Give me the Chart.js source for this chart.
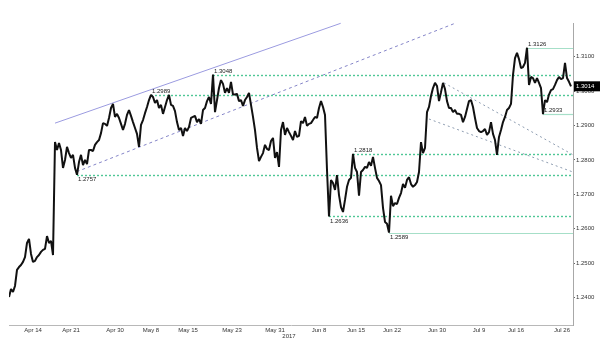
<!DOCTYPE html>
<html>
<head>
<meta charset="utf-8">
<script src="https://cdn.jsdelivr.net/npm/chart.js@4.4.1/dist/chart.umd.min.js"></script>
<style>
  html, body { margin: 0; padding: 0; background: #fff; }
  #wrap { width: 600px; height: 349px; position: relative; }
</style>
</head>
<body>
<div id="wrap"><canvas id="c" width="600" height="349"></canvas></div>
<script>
// GBP/USD closes, April to late July 2017 (one sample per step on the x axis)
const closes = [
  1.2402,1.2425,1.2417,1.2434,1.2481,1.2489,1.2495,1.2504,1.2518,1.2559,
  1.2571,1.2527,1.2504,1.2507,1.2518,1.2524,1.2533,1.2539,1.2542,1.2579,
  1.2559,1.2565,1.2524,1.2852,1.2829,1.2849,1.2829,1.2777,1.2800,1.2838,
  1.2820,1.2806,1.2815,1.2777,1.2757,1.2794,1.2815,1.2785,1.2800,1.2788,
  1.2829,1.2829,1.2826,1.2844,1.2852,1.2858,1.2878,1.2907,1.2905,1.2899,
  1.2922,1.2951,1.2963,1.2925,1.2934,1.2922,1.2905,1.2887,1.2905,1.2931,
  1.2945,1.2928,1.2910,1.2893,1.2876,1.2838,1.2902,1.2916,1.2936,1.2954,
  1.2974,1.2989,1.2983,1.2966,1.2974,1.2951,1.2960,1.2934,1.2954,1.2974,
  1.2989,1.2960,1.2957,1.2942,1.2910,1.2887,1.2893,1.2870,1.2893,1.2884,
  1.2896,1.2922,1.2925,1.2928,1.2910,1.2919,1.2905,1.2945,1.2951,1.2971,
  1.2983,1.2963,1.3048,1.2939,1.2974,1.3009,1.3032,1.3021,1.2995,1.3009,
  1.2995,1.3027,1.2990,1.2990,1.2992,1.2971,1.2974,1.2957,1.2974,1.2983,
  1.2995,1.2960,1.2925,1.2887,1.2835,1.2797,1.2809,1.2820,1.2844,1.2832,
  1.2829,1.2855,1.2864,1.2806,1.2823,1.2780,1.2887,1.2910,1.2873,1.2893,
  1.2881,1.2870,1.2858,1.2884,1.2867,1.2870,1.2913,1.2907,1.2925,1.2899,
  1.2905,1.2907,1.2916,1.2925,1.2922,1.2951,1.2971,1.2954,1.2931,1.2771,
  1.2636,1.2742,1.2733,1.2713,1.2756,1.2698,1.2663,1.2649,1.2684,1.2722,
  1.2742,1.2748,1.2818,1.2777,1.2765,1.2696,1.2765,1.2771,1.2780,1.2777,
  1.2794,1.2783,1.2809,1.2777,1.2748,1.2739,1.2727,1.2661,1.2620,1.2615,
  1.2589,1.2696,1.2666,1.2675,1.2672,1.2690,1.2704,1.2730,1.2719,1.2742,
  1.2750,1.2730,1.2722,1.2727,1.2736,1.2765,1.2852,1.2820,1.2835,1.2939,
  1.2954,1.2986,1.3009,1.3024,1.3015,1.2971,1.2997,1.3024,1.3006,1.2971,
  1.2951,1.2951,1.2939,1.2945,1.2934,1.2934,1.2931,1.2910,1.2925,1.2948,
  1.2971,1.2974,1.2954,1.2922,1.2893,1.2884,1.2881,1.2884,1.2890,1.2873,
  1.2881,1.2910,1.2876,1.2858,1.2815,1.2867,1.2887,1.2910,1.2925,1.2945,
  1.2951,1.2963,1.3047,1.3096,1.3111,1.3093,1.3067,1.3070,1.3082,1.3126,
  1.3018,1.3041,1.3038,1.3024,1.3038,1.3024,1.3009,1.2933,1.2974,1.2968,
  1.2990,1.3003,1.3006,1.3018,1.3032,1.3041,1.3035,1.3038,1.3082,1.3038,
  1.3027,1.3014
];

// date labels and the sample they fall on
const dateTicks  = ['Apr 14','Apr 21','Apr 30','May 8','May 15','May 23','May 31',
                    'Jun 8','Jun 15','Jun 22','Jun 30','Jul 9','Jul 16','Jul 26'];
const dateTickAt = [12, 31, 53, 71, 89.5, 111.5, 133, 155, 173.5, 191.5, 214, 235, 253.5, 276.5];
const yearLabel = '2017';

// price axis ticks
const priceTicks = [1.24, 1.25, 1.26, 1.27, 1.28, 1.29, 1.30, 1.31];

// support / resistance levels (extend right from the bar where they were set)
const dottedLevels = [1.3048, 1.2989, 1.2818, 1.2757, 1.2636];
const solidLevels  = [1.3126, 1.2933, 1.2589];
const levelsBelowText = [1.2757, 1.2636, 1.2589];

// trend lines as [sample, price] anchor pairs
const channelTop    = [[23, 1.2907], [165.85, 1.3197]];
const channelBase   = [[33.85, 1.2766], [223, 1.3197]];
const wedgeTop      = [[217.5, 1.3024], [282, 1.2815]];
const wedgeBase     = [[210, 1.2919], [282, 1.2765]];

const lastPrice = closes[closes.length - 1];

const FONT = '"Liberation Sans", Arial, sans-serif';

const overlay = {
  id: 'overlay',
  beforeDatasetsDraw(chart) {
    const { ctx, scales: { x, y }, chartArea } = chart;
    const seg = (pts, color, dash, w) => {
      ctx.beginPath();
      ctx.setLineDash(dash);
      ctx.strokeStyle = color;
      ctx.lineWidth = w;
      ctx.moveTo(x.getPixelForValue(pts[0][0]), y.getPixelForValue(pts[0][1]));
      ctx.lineTo(x.getPixelForValue(pts[1][0]), y.getPixelForValue(pts[1][1]));
      ctx.stroke();
    };
    ctx.save();
    seg(channelTop, '#9b9be0', [], 1);
    seg(channelBase, '#8585c8', [3, 3], 1);
    seg(wedgeTop, '#8d9cb0', [2, 3], 1);
    seg(wedgeBase, '#8d9cb0', [2, 3], 1);

    const level = (v, color, dash, w) => {
      const i0 = closes.indexOf(v);
      const py = Math.round(y.getPixelForValue(v)) + 0.5;
      ctx.beginPath();
      ctx.setLineDash(dash);
      ctx.strokeStyle = color;
      ctx.lineWidth = w;
      ctx.moveTo(x.getPixelForValue(i0), py);
      ctx.lineTo(chartArea.right, py);
      ctx.stroke();
    };
    dottedLevels.forEach(v => level(v, '#4fc796', [2, 2], 1.4));
    solidLevels.forEach(v => level(v, '#a6dfc8', [], 1.2));
    ctx.restore();
  },
  afterDraw(chart) {
    const { ctx, scales: { x, y }, chartArea } = chart;
    ctx.save();
    ctx.font = '6px ' + FONT;
    ctx.fillStyle = '#222';
    ctx.textAlign = 'left';
    [...dottedLevels, ...solidLevels].forEach(v => {
      const i0 = closes.indexOf(v);
      const px = x.getPixelForValue(i0) + 1;
      const py = y.getPixelForValue(v);
      if (levelsBelowText.includes(v)) {
        ctx.textBaseline = 'top';
        ctx.fillText(v.toFixed(4), px, py + 2);
      } else {
        ctx.textBaseline = 'alphabetic';
        ctx.fillText(v.toFixed(4), px, py - 2);
      }
    });

    // year under the date axis
    ctx.textAlign = 'center';
    ctx.textBaseline = 'middle';
    ctx.fillStyle = '#333';
    ctx.fillText(yearLabel, 289, 336);

    // last price tag on the price axis
    const ly = y.getPixelForValue(lastPrice);
    ctx.fillStyle = '#000';
    ctx.fillRect(chartArea.right + 1, ly - 5, 26, 10);
    ctx.fillStyle = '#fff';
    ctx.textAlign = 'left';
    ctx.fillText(lastPrice.toFixed(4), chartArea.right + 3, ly + 0.5);
    ctx.restore();
  }
};

Chart.defaults.font.family = FONT;

new Chart(document.getElementById('c'), {
  type: 'line',
  data: {
    datasets: [{
      data: closes.map((v, i) => ({ x: i, y: v })),
      borderColor: '#111',
      borderWidth: 2,
      pointRadius: 0,
      tension: 0,
      fill: false,
      borderJoinStyle: 'bevel'
    }]
  },
  options: {
    responsive: false,
    animation: false,
    devicePixelRatio: 1,
    layout: { padding: { top: 23, left: 9, right: 0, bottom: 0 } },
    plugins: { legend: { display: false }, tooltip: { enabled: false } },
    scales: {
      x: {
        type: 'linear',
        position: 'bottom',
        min: 0,
        max: 282,
        grid: { display: true, drawOnChartArea: false, drawTicks: false },
        border: { display: true, color: '#b8b8b8', width: 1 },
        afterBuildTicks: s => { s.ticks = dateTickAt.map(v => ({ value: v })); },
        afterFit: s => { s.height = 24; },
        ticks: {
          autoSkip: false,
          maxRotation: 0,
          padding: 2,
          color: '#333',
          font: { size: 6 },
          callback: v => {
            const k = dateTickAt.indexOf(v);
            return k >= 0 ? dateTicks[k] : '';
          }
        }
      },
      y: {
        type: 'linear',
        position: 'right',
        min: 1.23207,
        max: 1.319788,
        grid: { display: true, drawOnChartArea: false, drawTicks: true, tickLength: 2, color: '#666' },
        border: { display: true, color: '#a8a8a8', width: 1 },
        afterBuildTicks: s => { s.ticks = priceTicks.map(v => ({ value: v })); },
        afterFit: s => { s.width = 27; },
        ticks: {
          padding: 1,
          color: '#333',
          font: { size: 6 },
          callback: v => Number(v).toFixed(4)
        }
      }
    }
  },
  plugins: [overlay]
});
</script>
</body>
</html>
